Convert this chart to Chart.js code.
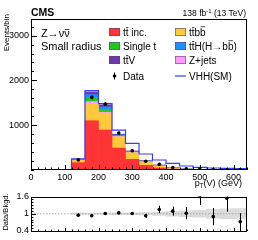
<!DOCTYPE html>
<html><head><meta charset="utf-8">
<script src="https://cdn.jsdelivr.net/npm/chart.js@4.4.1/dist/chart.umd.min.js"></script>
<style>
html,body{margin:0;padding:0;background:#fff;}
#wrap{position:relative;width:258px;height:240px;overflow:hidden;}
canvas{position:absolute;left:0;top:0;}
</style></head><body>
<div id="wrap"><canvas id="main" width="258" height="240"></canvas><canvas id="ratio" width="258" height="240"></canvas></div>
<script>
// ---------------- data ----------------
const binCenters = [140,180,220,260,300,340,380,420,460,500,540,580,620];
const ttInc   = [163,1100,892,490,238,104,45,20,10,5,3.5,1.8,2];
const ttbb    = [55,387,379,250,150,74,40,15,7,3.5,2.5,1.2,1.5];
const zJets   = [3,40,20,8,5,4,4,3,2,1,1,0.5,0.6];
const singleT = [8,90,60,18,10,8,8,4,2,1,0.7,0.4,0.5];
const ttH     = [4,65,55,18,12,10,8,4,2,1,0.7,0.3,0.5];
const ttV     = [4,60,49,16,10,10,8,4,2,1,0.6,0.3,0.4];
const vhhEdges = [0,120,160,200,240,280,320,360,400,440,480,520,560,600,640];
const vhhTotal = [0,250,1770,1480,890,595,357,223,149,89,60,45,38,30,30];
const dataVals = [225,1620,1470,825,430,195,130,55,25,20,8,7,4];
const dataErr  = [15,40,38,29,21,14,11,7,5,4.5,3,2.6,2];
const ratioVals  = [0.95,0.93,1.01,1.03,1.01,0.93,1.15,1.09,1.02,1.6,0.9,1.54,0.72];
const ratioErrLo = [0.06,0.03,0.03,0.035,0.05,0.07,0.13,0.16,0.21,0.3,0.3,0.47,0.3];
const ratioErrHi = [0.06,0.03,0.03,0.035,0.05,0.07,0.13,0.16,0.21,0.3,0.3,0.47,0.3];
const bandHalf   = [0.03,0.02,0.02,0.03,0.03,0.04,0.06,0.08,0.1,0.12,0.15,0.17,0.18];
const xTicks = [0,100,200,300,400,500,600];
const yTicks = [1000,2000,3000];
const ratioTicks = [0.4,1,1.6];

const C = {ttInc:'#ff3434', ttbb:'#fec93a', zJets:'#ff9cff', singleT:'#1ec81e', ttH:'#1a90ff', ttV:'#6a3aa8', vhh:'#3a3aff'};
const FAM = '"Liberation Sans", Arial, sans-serif';
function font(s,b){return (b?'bold ':'')+s+'px '+FAM;}

function drawRich(ctx,x,y,parts,size,align){
  let w=0; const ms=[];
  for(const p of parts){const s=(p.sub||p.sup)?size*0.7:size; ctx.font=font(s,p.bold); const mw=ctx.measureText(p.t).width; ms.push({s,mw}); w+=mw;}
  let cx = align==='right'?x-w:(align==='center'?x-w/2:x);
  ctx.textAlign='left'; ctx.textBaseline='alphabetic'; ctx.fillStyle='#000'; ctx.strokeStyle='#000';
  parts.forEach((p,i)=>{
    const {s,mw}=ms[i]; ctx.font=font(s,p.bold);
    const yy = y + (p.sub?size*0.25:(p.sup?-size*0.4:0));
    ctx.fillText(p.t,cx,yy);
    if(p.bar){ctx.beginPath(); ctx.lineWidth=Math.max(0.6,size*0.07); const by=yy-size*(p.bar); ctx.moveTo(cx+mw*0.1,by); ctx.lineTo(cx+mw*0.92,by); ctx.stroke();}
    cx+=mw;
  });
}

function stepsFrom(min,max,step){const a=[];for(let v=min;v<=max+1e-9;v+=step)a.push(+v.toFixed(6));return a;}

const framePlugin = {
  id:'frame',
  afterDatasetsDraw(chart){
    const o = chart.options.plugins.frame; const ctx=chart.ctx; const a=chart.chartArea;
    const xs=chart.scales.x, ys=chart.scales.y;
    ctx.save(); ctx.strokeStyle='#000'; ctx.lineWidth=1;
    ctx.beginPath();
    for(const v of stepsFrom(xs.min,xs.max,o.xMinor)){const px=Math.round(xs.getPixelForValue(v))+0.5; const L=o.xMaj.includes(v)?o.xMajLen:o.xMinLen; ctx.moveTo(px,a.bottom); ctx.lineTo(px,a.bottom-L);}
    for(const v of stepsFrom(o.yStart,ys.max,o.yMinor)){const py=Math.round(ys.getPixelForValue(v))+0.5; const L=o.yMaj.some(m=>Math.abs(m-v)<1e-6)?o.yMajLen:o.yMinLen; ctx.moveTo(a.left,py); ctx.lineTo(a.left+L,py);}
    ctx.stroke();
    ctx.strokeRect(Math.round(a.left)+0.5,Math.round(a.top)+0.5,Math.round(a.right-a.left)-1,Math.round(a.bottom-a.top)-1);
    ctx.restore();
  }
};

const errPlugin = {
  id:'errbars',
  afterDatasetsDraw(chart){
    const ctx=chart.ctx, a=chart.chartArea, ys=chart.scales.y;
    ctx.save(); ctx.beginPath(); ctx.rect(a.left,a.top,a.right-a.left,a.bottom-a.top); ctx.clip();
    ctx.strokeStyle='#000'; ctx.lineWidth=1;
    chart.data.datasets.forEach((ds,i)=>{
      if(!ds.errLo) return;
      const meta=chart.getDatasetMeta(i);
      meta.data.forEach((el,j)=>{
        const v=ds.data[j].y;
        const y1=ys.getPixelForValue(v-ds.errLo[j]), y2=ys.getPixelForValue(v+ds.errHi[j]);
        ctx.beginPath(); ctx.moveTo(Math.round(el.x)+0.5,y1); ctx.lineTo(Math.round(el.x)+0.5,y2); ctx.stroke();
      });
    });
    ctx.restore();
  }
};

const textPlugin = {
  id:'texts',
  afterDraw(chart){
    const ctx=chart.ctx; ctx.save();
    drawRich(ctx,31,16,[{t:'CMS',bold:true}],10.5,'left');
    drawRich(ctx,246,16,[{t:'138 fb'},{t:'-1',sup:true},{t:' (13 TeV)'}],8.5,'right');
    // y title
    ctx.save(); ctx.translate(8.5,14); ctx.rotate(-Math.PI/2); ctx.font=font(8); ctx.fillStyle='#000'; ctx.textAlign='right'; ctx.fillText('Events/bin',0,0); ctx.restore();
    // x title
    drawRich(ctx,242,186,[{t:'p'},{t:'T',sub:true},{t:'(V) (GeV)'}],9,'right');
    // in-plot labels
    drawRich(ctx,41,37,[{t:'Z\u2192\u03BD'},{t:'\u03BD',bar:0.68}],11,'left');
    drawRich(ctx,41,50,[{t:'Small radius'}],11,'left');
    // legend
    const rows=[32,46,60,76]; const fs=10;
    const sw=(x,yc,col)=>{ctx.fillStyle=col; ctx.fillRect(x,yc-4,11,8); ctx.strokeStyle='rgba(90,70,120,0.8)'; ctx.lineWidth=0.7; ctx.strokeRect(x+0.35,yc-3.65,10.3,7.3);};
    sw(109,rows[0],C.ttInc); drawRich(ctx,123,rows[0]+3.5,[{t:'t'},{t:'t',bar:0.8},{t:' inc.'}],fs,'left');
    sw(109,rows[1],C.singleT); drawRich(ctx,123,rows[1]+3.5,[{t:'Single t'}],fs,'left');
    sw(109,rows[2],C.ttV); drawRich(ctx,123,rows[2]+3.5,[{t:'t'},{t:'t',bar:0.8},{t:'V'}],fs,'left');
    ctx.fillStyle='#000'; ctx.beginPath(); ctx.arc(114.5,rows[3],1.8,0,Math.PI*2); ctx.fill();
    ctx.strokeStyle='#000'; ctx.lineWidth=1; ctx.beginPath(); ctx.moveTo(114.5,rows[3]-3.5); ctx.lineTo(114.5,rows[3]+3.5); ctx.stroke();
    drawRich(ctx,123,rows[3]+3.5,[{t:'Data'}],fs,'left');
    sw(175,rows[0],C.ttbb); drawRich(ctx,189,rows[0]+3.5,[{t:'t'},{t:'t',bar:0.8},{t:'b'},{t:'b',bar:0.88}],fs,'left');
    sw(175,rows[1],C.ttH); drawRich(ctx,189,rows[1]+3.5,[{t:'t'},{t:'t',bar:0.8},{t:'H(H\u2192b'},{t:'b',bar:0.88},{t:')'}],fs,'left');
    sw(175,rows[2],C.zJets); drawRich(ctx,189,rows[2]+3.5,[{t:'Z+jets'}],fs,'left');
    ctx.strokeStyle=C.vhh; ctx.lineWidth=1.2; ctx.beginPath(); ctx.moveTo(175,rows[3]); ctx.lineTo(186,rows[3]); ctx.stroke();
    drawRich(ctx,189,rows[3]+3.5,[{t:'VHH(SM)'}],fs,'left');
    ctx.restore();
  }
};

const ratioTextPlugin = {
  id:'rtexts',
  afterDraw(chart){
    const ctx=chart.ctx; ctx.save();
    ctx.translate(8,212); ctx.rotate(-Math.PI/2); ctx.font=font(7.5); ctx.fillStyle='#000'; ctx.textAlign='center'; ctx.fillText('Data/Bkgd.',0,0);
    ctx.restore();
  }
};

const pts=(xs,ys)=>xs.map((x,i)=>({x,y:ys[i]}));
const bar=(label,vals,col)=>({label,data:pts(binCenters,vals),backgroundColor:col,borderWidth:0,stack:'bkg',barPercentage:1,categoryPercentage:1,order:0});
const tickFont={family:FAM,size:9};
const plainLabel = v => String(v);

new Chart(document.getElementById('main'),{
  type:'bar',
  data:{datasets:[
    bar('tt inc.',ttInc,C.ttInc),
    bar('ttbb',ttbb,C.ttbb),
    bar('Z+jets',zJets,C.zJets),
    bar('Single t',singleT,C.singleT),
    bar('ttH',ttH,C.ttH),
    bar('ttV',ttV,C.ttV),
    {type:'line',label:'VHH(SM)',data:pts(vhhEdges,vhhTotal),stepped:'before',borderColor:C.vhh,borderWidth:1.2,pointRadius:0,fill:false,stack:'sig',order:-1},
    {type:'line',label:'Data',data:pts(binCenters,dataVals),showLine:false,pointRadius:1.8,pointBackgroundColor:'#000',pointBorderWidth:0,stack:'data',order:-2,errLo:dataErr,errHi:dataErr}
  ]},
  options:{
    responsive:false,animation:false,devicePixelRatio:1,
    layout:{padding:{left:0,right:11,top:19,bottom:56}},
    plugins:{legend:{display:false},tooltip:{enabled:false},
      frame:{xMinor:20,xMaj:xTicks,xMajLen:5,xMinLen:2.5,yStart:0,yMinor:200,yMaj:yTicks,yMajLen:6,yMinLen:3}},
    scales:{
      x:{type:'linear',min:0,max:640,offset:false,stacked:true,grid:{display:false,drawTicks:false},border:{display:false},
         afterBuildTicks:s=>{s.ticks=xTicks.map(v=>({value:v}));},
         ticks:{font:tickFont,color:'#000',padding:2,maxRotation:0,autoSkip:false,callback:plainLabel},
         afterFit:s=>{s.height=14;}},
      y:{type:'linear',min:0,max:3370,stacked:true,grid:{display:false,drawTicks:false},border:{display:false},
         afterBuildTicks:s=>{s.ticks=yTicks.map(v=>({value:v}));},
         ticks:{font:tickFont,color:'#000',padding:2,autoSkip:false,callback:plainLabel},
         afterFit:s=>{s.width=31;}}
    }
  },
  plugins:[framePlugin,errPlugin,textPlugin]
});

new Chart(document.getElementById('ratio'),{
  type:'bar',
  data:{datasets:[
    {type:'line',label:'Ratio',data:pts(binCenters,ratioVals),showLine:false,pointRadius:1.8,pointBackgroundColor:'#000',pointBorderWidth:0,order:-2,errLo:ratioErrLo,errHi:ratioErrHi},
    {type:'line',label:'one',data:[{x:0,y:1},{x:640,y:1}],borderColor:'#9a9a9a',borderDash:[1.5,1.5],borderWidth:0.8,pointRadius:0,order:-1},
    {label:'Bkg unc.',data:binCenters.map((x,i)=>({x,y:[1-bandHalf[i],1+bandHalf[i]]})),backgroundColor:'#dcdcdc',borderWidth:0,barPercentage:1,categoryPercentage:1,order:0}
  ]},
  options:{
    responsive:false,animation:false,devicePixelRatio:1,
    layout:{padding:{left:0,right:11,top:196.5,bottom:9}},
    plugins:{legend:{display:false},tooltip:{enabled:false},
      frame:{xMinor:20,xMaj:xTicks,xMajLen:3,xMinLen:1.5,yStart:0.4,yMinor:0.1,yMaj:ratioTicks,yMajLen:5,yMinLen:2.5}},
    scales:{
      x:{type:'linear',min:0,max:640,offset:false,grid:{display:false,drawTicks:false},border:{display:false},ticks:{display:false},afterFit:s=>{s.height=0;}},
      y:{type:'linear',min:0.4,max:1.6,grid:{display:false,drawTicks:false},border:{display:false},
         afterBuildTicks:s=>{s.ticks=ratioTicks.map(v=>({value:v}));},
         ticks:{font:tickFont,color:'#000',padding:2,autoSkip:false,callback:plainLabel},
         afterFit:s=>{s.width=31;}}
    }
  },
  plugins:[framePlugin,errPlugin,ratioTextPlugin]
});
</script>
</body></html>
